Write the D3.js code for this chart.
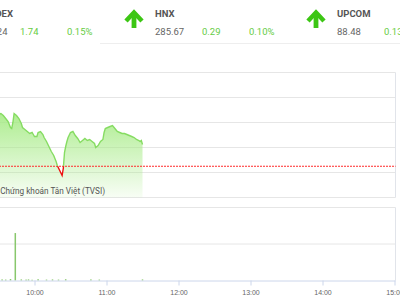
<!DOCTYPE html>
<html><head><meta charset="utf-8">
<script src="https://cdn.jsdelivr.net/npm/d3@7"></script>
<style>
html,body{margin:0;padding:0;background:#fff;overflow:hidden}
svg{display:block;font-family:Roboto,"Liberation Sans",sans-serif}
</style></head><body>
<svg id="chart" width="400" height="300"></svg>
<script>
// Index summary strip
const indexNames    = ["VNINDEX", "HNX", "UPCOM"];
const indexValues   = ["1172.24", "285.67", "88.48"];
const indexChanges  = ["1.74", "0.29", "0.13"];
const indexPercents = ["0.15%", "0.10%", "0.15%"];

// Intraday VN-Index (morning session)
const referencePrice = 1170.50;
const priceTimes = ["9:15","9:20","9:25","9:30","9:32","9:34","9:36","9:38","9:40","9:41","9:42","9:43","9:45","9:47","9:49","9:50","9:52","9:54","9:56","9:58","9:59","10:00","10:02","10:03","10:05","10:07","10:08","10:10","10:12","10:14","10:16","10:18","10:19","10:21","10:23","10:24","10:25","10:26","10:27","10:28","10:30","10:32","10:34","10:36","10:38","10:40","10:42","10:44","10:46","10:48","10:50","10:51","10:53","10:55","10:57","10:58","10:59","11:01","11:03","11:05","11:07","11:09","11:11","11:13","11:15","11:17","11:19","11:21","11:23","11:25","11:27","11:28","11:29","11:30"];
const priceValues = [1173.76,1174.16,1174.48,1174.64,1174.72,1174.56,1174.32,1174.08,1173.60,1173.52,1174.00,1174.72,1174.56,1174.32,1173.92,1173.60,1173.44,1173.28,1173.12,1173.20,1173.04,1172.88,1172.88,1173.20,1173.28,1173.04,1172.80,1172.48,1172.08,1171.68,1171.36,1170.88,1170.56,1170.16,1169.76,1170.32,1171.60,1172.08,1172.48,1172.80,1173.20,1173.28,1172.96,1172.72,1172.40,1172.56,1172.72,1172.56,1172.64,1172.48,1172.32,1172.00,1172.16,1172.48,1172.64,1173.20,1173.52,1173.60,1173.68,1173.76,1173.52,1173.28,1173.20,1173.12,1173.12,1173.04,1172.96,1172.88,1172.80,1172.64,1172.56,1172.48,1172.56,1172.24];

// Matched volume
const volumeTimes  = ["9:33","9:36","9:40","9:44","9:49","9:53","9:55","9:58","10:03","10:10","10:15","10:20","10:26","10:47","10:54","11:30"];
const volumeValues = [30000,25000,40000,1300000,30000,25000,30000,20000,35000,25000,30000,25000,35000,30000,25000,30000];

const priceTicks  = [1168, 1170, 1172, 1174, 1176, 1178];
const volumeTicks = [0, 1000000, 2000000];
const timeTicks   = ["10:00", "11:00", "12:00", "13:00", "14:00", "15:00"];

const parseT = d3.timeParse("%H:%M");
const svg = d3.select("#chart");

// ---- header strip ----
const blockStep = 182;
const header = svg.append("g");
indexNames.forEach((name, i) => {
  const ox = (i - 1) * blockStep;
  const g = header.append("g").attr("transform", `translate(${ox},0)`);
  if (i === 0) g.append("rect").attr("x", -82).attr("y", 0).attr("width", 182).attr("height", 43).attr("fill", "#efefef");
  // up arrow
  g.append("path").attr("d", "M126,21 L134,12.5 L142,21").attr("fill", "none")
    .attr("stroke", "#3cc614").attr("stroke-width", 4.5).attr("stroke-linejoin", "miter");
  g.append("line").attr("x1", 134).attr("x2", 134).attr("y1", 14).attr("y2", 28)
    .attr("stroke", "#3cc614").attr("stroke-width", 4.8);
  g.append("text").attr("x", 155).attr("y", 17).attr("font-size", 9.5).attr("font-weight", "bold").attr("fill", "#555").text(name);
  g.append("text").attr("x", 155).attr("y", 35).attr("font-size", 9.5).attr("fill", "#666").text(indexValues[i]);
  g.append("text").attr("x", 202).attr("y", 35).attr("font-size", 9.5).attr("fill", "#66cc44").text(indexChanges[i]);
  g.append("text").attr("x", 249).attr("y", 35).attr("font-size", 9.5).attr("fill", "#66cc44").text(indexPercents[i]);
});
svg.append("line").attr("x1", 100).attr("x2", 400).attr("y1", 43.5).attr("y2", 43.5).attr("stroke", "#eeeeee");

// ---- scales ----
const x = d3.scaleTime().domain([parseT("9:00"), parseT("15:00")]).range([-37.5, 394.5]);
const y = d3.scaleLinear().domain([1168, 1178]).range([197.5, 72.5]);
const yv = d3.scaleLinear().domain([0, 2000000]).range([280.5, 207.5]);
const plotLeft = -40, plotRight = 395.5;

const priceData = priceTimes.map((t, i) => ({ t: parseT(t), v: priceValues[i] }));
const volumeData = volumeTimes.map((t, i) => ({ t: parseT(t), v: volumeValues[i] }));

// ---- price pane ----
const grid = svg.append("g");
priceTicks.forEach(v => grid.append("line").attr("x1", plotLeft).attr("x2", plotRight)
  .attr("y1", y(v)).attr("y2", y(v)).attr("stroke", "#e6e6e6"));
grid.append("line").attr("x1", plotRight).attr("x2", plotRight).attr("y1", y(1178)).attr("y2", y(1168)).attr("stroke", "#e1e4ea");

const defs = svg.append("defs");
const grad = defs.append("linearGradient").attr("id", "areaFill").attr("gradientUnits", "userSpaceOnUse")
  .attr("x1", 0).attr("x2", 0).attr("y1", y(1175)).attr("y2", y(1168));
grad.append("stop").attr("offset", 0).attr("stop-color", "#a2ea80").attr("stop-opacity", 0.9);
grad.append("stop").attr("offset", 1).attr("stop-color", "#a2ea80").attr("stop-opacity", 0.08);

const yRef = y(referencePrice);
defs.append("clipPath").attr("id", "above").append("rect").attr("x", -100).attr("y", 0).attr("width", 600).attr("height", yRef);
defs.append("clipPath").attr("id", "below").append("rect").attr("x", -100).attr("y", yRef).attr("width", 600).attr("height", 300);

const area = d3.area().x(d => x(d.t)).y0(y(1168)).y1(d => y(d.v));
const line = d3.line().x(d => x(d.t)).y(d => y(d.v));
svg.append("path").datum(priceData).attr("d", area).attr("fill", "url(#areaFill)");

svg.append("line").attr("x1", plotLeft).attr("x2", plotRight).attr("y1", yRef).attr("y2", yRef)
  .attr("stroke", "#ff2a2a").attr("stroke-width", 1).attr("stroke-dasharray", "2,1");

svg.append("path").datum(priceData).attr("d", line).attr("fill", "none")
  .attr("stroke", "#86dc62").attr("stroke-width", 1.4).attr("clip-path", "url(#above)");
svg.append("path").datum(priceData).attr("d", line).attr("fill", "none")
  .attr("stroke", "#ee1111").attr("stroke-width", 1.4).attr("clip-path", "url(#below)");

svg.append("text").attr("x", 105).attr("y", 194).attr("text-anchor", "end").attr("font-size", 8.2)
  .attr("font-family", "Roboto,'Liberation Sans',sans-serif").attr("fill", "#555")
  .text("© 2022 Chứng khoán Tân Việt (TVSI)");

// ---- volume pane ----
const vgrid = svg.append("g");
volumeTicks.slice(1).forEach(v => vgrid.append("line").attr("x1", plotLeft).attr("x2", plotRight)
  .attr("y1", yv(v)).attr("y2", yv(v)).attr("stroke", "#e6e6e6"));
vgrid.append("line").attr("x1", plotRight).attr("x2", plotRight).attr("y1", yv(2000000)).attr("y2", yv(0)).attr("stroke", "#e1e4ea");

svg.append("g").selectAll("rect").data(volumeData).join("rect")
  .attr("x", d => x(d.t) - 0.75).attr("width", 1.5)
  .attr("y", d => yv(d.v)).attr("height", d => yv(0) - yv(d.v))
  .attr("fill", "#88c76c");

const xAxis = d3.axisBottom(x).tickValues(timeTicks.map(parseT))
  .tickFormat(d3.timeFormat("%H:%M")).tickSize(5).tickSizeOuter(0);
const ax = svg.append("g").attr("transform", `translate(0,${yv(0)})`).call(xAxis);
ax.select(".domain").attr("stroke", "#ccd6eb").attr("d", `M${plotLeft},0.5H${plotRight}`);
ax.selectAll(".tick line").attr("stroke", "#ccd6eb");
ax.selectAll(".tick text").attr("fill", "#666").attr("font-size", 7).attr("dy", "0.9em")
  .attr("font-family", "'Liberation Sans',Arial,sans-serif");
</script>
</body></html>
